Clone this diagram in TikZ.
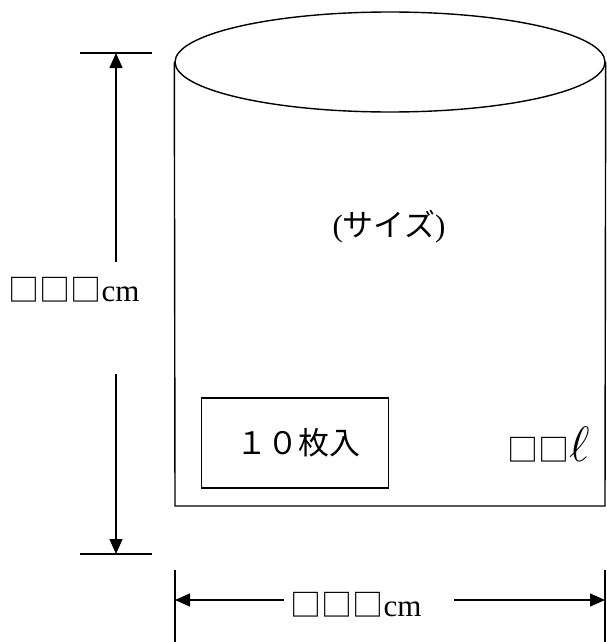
\documentclass[tikz,border=0pt]{standalone}
\usepackage{fontspec}
\setmainfont{Liberation Serif}
\newfontfamily\jp{Noto Sans CJK JP}
\usetikzlibrary{shapes.geometric,arrows.meta}
\begin{document}
\begin{tikzpicture}[x=1pt,y=-1pt,
  line/.style={line width=1.4pt},
  arr/.style={line width=1.4pt,-{Triangle[length=15pt,width=13pt]}},
  lbl/.style={inner sep=0pt,font=\fontsize{31}{36}\selectfont}]
\useasboundingbox (0,0) rectangle (606,642);
% cylinder
\node[draw,line,ellipse,minimum width=430pt,minimum height=100pt,inner sep=0pt] (top) at (390,62) {};
\coordinate (bl) at (175,506);
\coordinate (br) at (605,506);
\draw[line] (top.west) -- (bl) -- (br) -- (top.east);
\node[lbl] (size) at (389,227) {(\jp サイズ\rmfamily)};
\node[draw,line,minimum width=187pt,minimum height=90pt,inner sep=0pt] (box) at (295,443) {};
\node[lbl] (ten) at (298,443) {\jp １０枚入};
\node[lbl,anchor=east] (vol) at (590,445) {{\jp □□}\raisebox{0pt}{\scalebox{2.0}{$\ell$}}};
% vertical dimension
\coordinate (t1) at (80,53);  \coordinate (t2) at (152,53);
\coordinate (b1) at (80,554); \coordinate (b2) at (152,554);
\draw[line] (t1) -- (t2);
\draw[line] (b1) -- (b2);
\node[lbl] (hlab) at (74,290) {{\jp □□□}cm};
\coordinate (va) at (116,262); \coordinate (vt) at (116,53);
\coordinate (vb) at (116,374); \coordinate (vbb) at (116,554);
\draw[arr] (va) -- (vt);
\draw[arr] (vb) -- (vbb);
% horizontal dimension
\coordinate (l1) at (175,570); \coordinate (l2) at (175,642);
\coordinate (r1) at (605,570); \coordinate (r2) at (605,642);
\draw[line] (l1) -- (l2);
\draw[line] (r1) -- (r2);
\node[lbl] (wlab) at (356,605) {{\jp □□□}cm};
\coordinate (ha) at (284,600); \coordinate (hl) at (175,600);
\coordinate (hb) at (454,600); \coordinate (hr) at (605,600);
\draw[arr] (ha) -- (hl);
\draw[arr] (hb) -- (hr);
\end{tikzpicture}
\end{document}
